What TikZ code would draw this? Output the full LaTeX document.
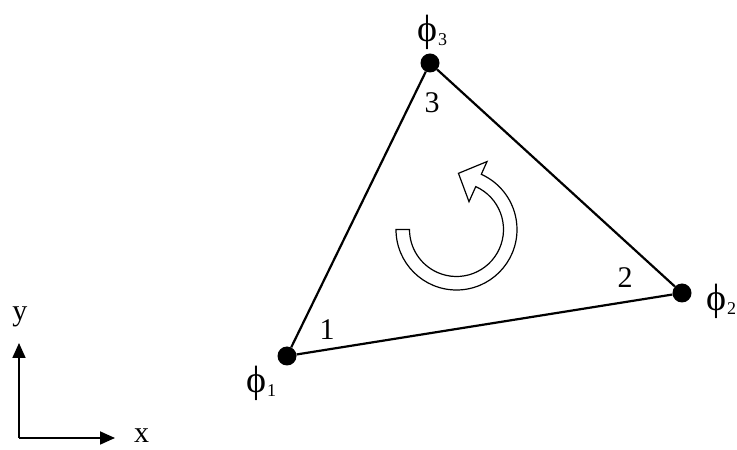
\documentclass[tikz,border=0pt]{standalone}
\usepackage{fontspec}
\setmainfont{Liberation Serif}
\usepackage{tikz}
\usetikzlibrary{calc,arrows.meta}
\newcommand{\Lbl}{\fontsize{30}{34}\selectfont}
\newcommand{\PhiFont}{\fontsize{38}{40}\selectfont}
\newcommand{\Sub}{\fontsize{18}{20}\selectfont}

\begin{document}
\begin{tikzpicture}[x=1pt,y=1pt,
    vtx/.style={circle, fill=black, inner sep=0pt, minimum size=19pt},
    edge/.style={line width=2.2pt},
    axis/.style={line width=1.8pt, -{Triangle[length=15pt,width=13pt]}},
    lbl/.style={font=\Lbl, inner sep=0pt},
    philbl/.style={font=\PhiFont, inner sep=0pt, anchor=base west}]
  \useasboundingbox (0,0) rectangle (737,450);
  % element corners
  \node[vtx] (v1) at (287,94) {};
  \node[vtx] (v2) at (682,157) {};
  \node[vtx] (v3) at (430,387) {};
  \draw[edge] (v1) -- (v2) -- (v3) -- (v1);
  % local numbering
  \node[lbl] (n1) at (327,120) {1};
  \node[lbl] (n2) at (625,172) {2};
  \node[lbl] (n3) at (432,347) {3};
  % nodal values
  \node[philbl] (p1) at (246,57) {ϕ\kern1pt\raisebox{-4pt}{\Sub 1}};
  \node[philbl] (p2) at (706,139) {ϕ\kern1pt\raisebox{-4pt}{\Sub 2}};
  \node[philbl] (p3) at (417,408) {ϕ\kern1pt\raisebox{-4pt}{\Sub 3}};
  % sense of numbering
  \coordinate (c) at (456.5,220.5);
  \draw[line width=1.2pt, fill=white]
    ($(c)+(180:60.5)$) arc[start angle=180, end angle=425.8, radius=60.5]
    -- ($(c)+(65.8:74.5)$) -- ($(c)+(88:56.2)$) -- ($(c)+(65.8:30.5)$)
    -- ($(c)+(65.8:47)$) arc[start angle=425.8, end angle=180, radius=47] -- cycle;
  % axes
  \coordinate (o) at (19,12);
  \coordinate (xend) at (115,12);
  \coordinate (yend) at (19,107);
  \draw[axis] (o) -- (xend);
  \draw[axis] (o) -- (yend);
  \node[lbl] (xl) at (141.7,14.5) {x};
  \node[lbl] (yl) at (20,133) {y};
\end{tikzpicture}
\end{document}
